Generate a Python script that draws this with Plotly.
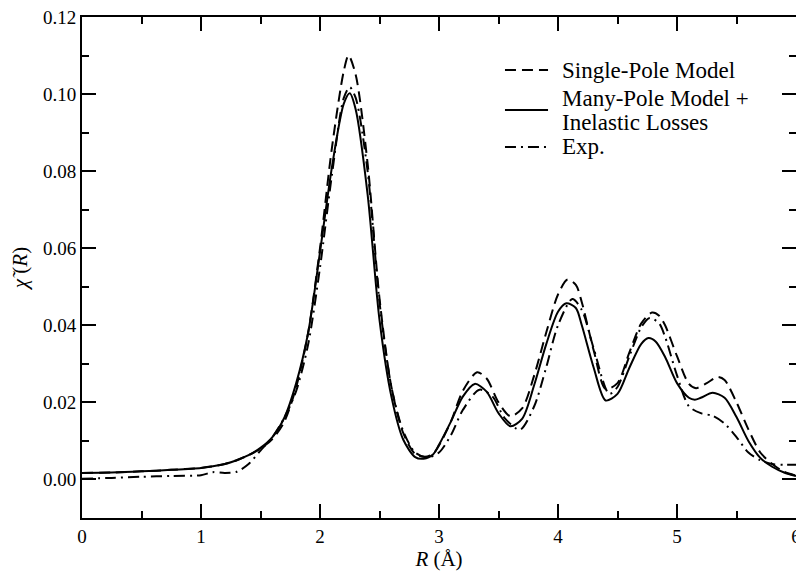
import plotly.graph_objects as go

# ---- data ----
r_many = [0, 0.25, 0.5, 0.75, 1.0, 1.1, 1.2, 1.3, 1.4, 1.5, 1.6, 1.7, 1.8, 1.9, 2.0, 2.1, 2.2, 2.25,
          2.3, 2.4, 2.5, 2.6, 2.7, 2.8, 2.87, 2.95, 3.0, 3.1, 3.2, 3.3, 3.4, 3.5, 3.6, 3.7, 3.8, 3.9, 4.0,
          4.07, 4.15, 4.2, 4.3, 4.4, 4.5, 4.6, 4.7, 4.76, 4.82, 4.9, 5.0, 5.1, 5.15, 5.2, 5.3, 5.4,
          5.5, 5.6, 5.7, 5.8, 5.9, 6.0]
chi_many = [0.0017, 0.0018, 0.0021, 0.0025, 0.0030, 0.0034, 0.0040, 0.0050, 0.0063, 0.0082, 0.0110,
            0.0160, 0.0250, 0.0380, 0.0590, 0.0810, 0.0975, 0.1002, 0.0960, 0.0740, 0.0414, 0.0215,
            0.0103, 0.0058, 0.0054, 0.0065, 0.0090, 0.0150, 0.0215, 0.0248, 0.0228, 0.0172, 0.0138,
            0.0158, 0.0245, 0.0350, 0.0435, 0.0457, 0.0445, 0.0400, 0.0290, 0.0205, 0.0222, 0.0290,
            0.0352, 0.0367, 0.0358, 0.0318, 0.0250, 0.0212, 0.0207, 0.0212, 0.0225, 0.0212, 0.0162,
            0.0100, 0.0056, 0.0033, 0.0018, 0.0009]

r_single = [0, 0.25, 0.5, 0.75, 1.0, 1.1, 1.2, 1.3, 1.4, 1.5, 1.6, 1.7, 1.8, 1.9, 2.0, 2.1, 2.2, 2.24,
            2.3, 2.4, 2.5, 2.6, 2.7, 2.8, 2.88, 2.95, 3.0, 3.1, 3.2, 3.32, 3.4, 3.5, 3.6, 3.7, 3.8, 3.9,
            4.0, 4.08, 4.15, 4.2, 4.3, 4.4, 4.5, 4.6, 4.7, 4.79, 4.85, 4.9, 5.0, 5.1, 5.16, 5.25, 5.34,
            5.4, 5.5, 5.6, 5.7, 5.8, 5.9, 6.0]
chi_single = [0.0017, 0.0018, 0.0021, 0.0025, 0.0030, 0.0034, 0.0040, 0.0050, 0.0063, 0.0080, 0.0105,
              0.0150, 0.0240, 0.0380, 0.0600, 0.0860, 0.1060, 0.1100, 0.1050, 0.0820, 0.0470, 0.0240,
              0.0120, 0.0066, 0.0059, 0.0066, 0.0088, 0.0150, 0.0230, 0.0278, 0.0262, 0.0200, 0.0164,
              0.0185, 0.0270, 0.0380, 0.0480, 0.0519, 0.0505, 0.0460, 0.0335, 0.0235, 0.0250, 0.0330,
              0.0405, 0.0433, 0.0425, 0.0400, 0.0320, 0.0248, 0.0237, 0.0250, 0.0266, 0.0258, 0.0200,
              0.0130, 0.0070, 0.0040, 0.0020, 0.0010]

r_exp = [0, 0.25, 0.5, 0.75, 1.0, 1.1, 1.2, 1.3, 1.4, 1.5, 1.6, 1.7, 1.8, 1.9, 2.0, 2.1, 2.2, 2.25,
         2.3, 2.4, 2.5, 2.6, 2.7, 2.8, 2.9, 3.0, 3.1, 3.2, 3.34, 3.45, 3.55, 3.68, 3.8, 3.9, 4.0,
         4.12, 4.2, 4.3, 4.43, 4.5, 4.6, 4.7, 4.77, 4.85, 4.9, 5.0, 5.1, 5.2, 5.3, 5.4, 5.5, 5.6,
         5.7, 5.8, 5.9, 6.0]
chi_exp = [0.0002, 0.0004, 0.0007, 0.0009, 0.0011, 0.0019, 0.0017, 0.0020, 0.0040, 0.0075, 0.0110,
           0.0160, 0.0230, 0.0350, 0.0550, 0.0790, 0.0990, 0.1018, 0.0990, 0.0800, 0.0460, 0.0240,
           0.0125, 0.0070, 0.0057, 0.0070, 0.0115, 0.0180, 0.0233, 0.0215, 0.0160, 0.0129, 0.0190,
           0.0290, 0.0400, 0.0468, 0.0440, 0.0340, 0.0222, 0.0240, 0.0320, 0.0395, 0.0419, 0.0405,
           0.0370, 0.0270, 0.0190, 0.0172, 0.0165, 0.0145, 0.0110, 0.0070, 0.0050, 0.0040, 0.0038,
           0.0038]

series_names = ["Single-Pole Model", "Many-Pole Model +<br>Inelastic Losses", "Exp."]
legend_lines = [["Single-Pole Model"], ["Many-Pole Model +", "Inelastic Losses"], ["Exp."]]

x_ticks = [0, 1, 2, 3, 4, 5, 6]
y_ticks = [0.00, 0.02, 0.04, 0.06, 0.08, 0.10, 0.12]
y_tick_labels = ["0.00", "0.02", "0.04", "0.06", "0.08", "0.10", "0.12"]

FONT = "Liberation Serif"
styles = [
    dict(color="black", width=2, dash="11px,6px"),
    dict(color="black", width=2),
    dict(color="black", width=2, dash="11px,5px,2px,5px"),
]

fig = go.Figure()
for xs, ys, nm, st in zip([r_single, r_many, r_exp], [chi_single, chi_many, chi_exp], series_names, styles):
    fig.add_trace(go.Scatter(x=xs, y=ys, mode="lines", name=nm, showlegend=False,
                             line=dict(shape="spline", smoothing=0.8, **st)))

# hand-placed legend (paper coordinates), matching the reference's layout
LEG_X0, LEG_X1, LEG_TX = 0.5924, 0.6527, 0.6695
sample_y = [0.8942, 0.8144, 0.7405]
text_y = [[0.8942], [0.8373, 0.7894], [0.7425]]
for st, sy, lines, tys in zip(styles, sample_y, legend_lines, text_y):
    fig.add_shape(type="line", xref="paper", yref="paper", x0=LEG_X0, x1=LEG_X1, y0=sy, y1=sy,
                  line=st)
    for txt, ty in zip(lines, tys):
        fig.add_annotation(x=LEG_TX, y=ty, xref="paper", yref="paper", text=txt, showarrow=False,
                           xanchor="left", yanchor="middle",
                           font=dict(family=FONT, size=23, color="black"))

axis_common = dict(
    showline=True, linecolor="black", linewidth=2, mirror="ticks",
    ticks="inside", ticklen=14, tickwidth=1.5, tickcolor="black",
    showgrid=False, zeroline=False, automargin=False,
    tickfont=dict(family=FONT, size=19, color="black"),
)

fig.update_xaxes(range=[0, 6], tickvals=x_ticks, ticklabeloverflow="allow",
                 minor=dict(dtick=0.5, ticks="inside", ticklen=7, tickwidth=1.5, tickcolor="black", showgrid=False),
                 title=dict(text="<i>R</i> (Å)", font=dict(family=FONT, size=21, color="black"), standoff=6),
                 **axis_common)
fig.update_yaxes(range=[-0.01, 0.12], tickvals=y_ticks, ticktext=y_tick_labels,
                 minor=dict(dtick=0.01, tick0=0, ticks="inside", ticklen=7, tickwidth=1.5, tickcolor="black", showgrid=False),
                 title=dict(text="<i>χ̃</i> (<i>R</i>)", font=dict(family=FONT, size=21, color="black"), standoff=10),
                 **axis_common)

fig.update_layout(
    width=796, height=572,
    margin=dict(l=82, r=0, t=17, b=54),
    paper_bgcolor="white", plot_bgcolor="white",
    font=dict(family=FONT, color="black"),
    showlegend=False,
)

fig.write_html("out.html", config={"displayModeBar": False},
               post_script="document.body.style.margin='0px';document.body.style.overflow='hidden';")
